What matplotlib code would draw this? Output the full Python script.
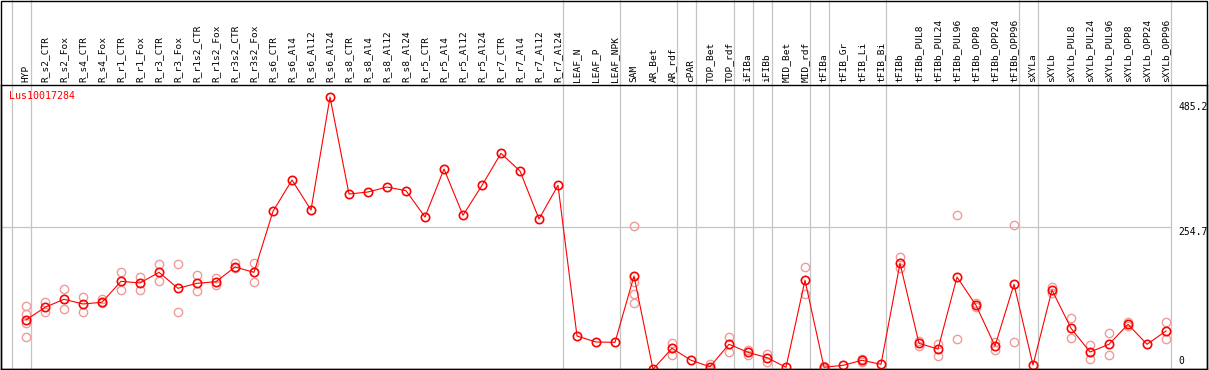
import numpy as np
import matplotlib
matplotlib.use("Agg")
import matplotlib.pyplot as plt
from matplotlib.patches import Rectangle

# ---------------------------------------------------------------
# Datos: expresion de Lus10017284 por tejido / condicion
# ---------------------------------------------------------------
gene = "Lus10017284"

categorias = [
    "HYP", "R_s2_CTR", "R_s2_Fox", "R_s4_CTR", "R_s4_Fox", "R_r1_CTR",
    "R_r1_Fox", "R_r3_CTR", "R_r3_Fox", "R_r1s2_CTR", "R_r1s2_Fox",
    "R_r3s2_CTR", "R_r3s2_Fox", "R_s6_CTR", "R_s6_Al4", "R_s6_Al12",
    "R_s6_Al24", "R_s8_CTR", "R_s8_Al4", "R_s8_Al12", "R_s8_Al24",
    "R_r5_CTR", "R_r5_Al4", "R_r5_Al12", "R_r5_Al24", "R_r7_CTR",
    "R_r7_Al4", "R_r7_Al12", "R_r7_Al24", "LEAF_N", "LEAF_P", "LEAF_NPK",
    "SAM", "AR_Bet", "AR_rdf", "cPAR", "TOP_Bet", "TOP_rdf", "iFIBa",
    "iFIBb", "MID_Bet", "MID_rdf", "tFIBa", "tFIB_Gr", "tFIB_Li",
    "tFIB_Bi", "tFIBb", "tFIBb_PUL8", "tFIBb_PUL24", "tFIBb_PUL96",
    "tFIBb_OPP8", "tFIBb_OPP24", "tFIBb_OPP96", "sXYLa", "sXYLb",
    "sXYLb_PUL8", "sXYLb_PUL24", "sXYLb_PUL96", "sXYLb_OPP8",
    "sXYLb_OPP24", "sXYLb_OPP96",
]

media = [
    90.7, 113.2, 127.4, 119.1, 122.1, 159.2, 156.2, 175.1, 146.8, 155.7,
    158.5, 184.5, 175.1, 283.0, 338.4, 285.3, 485.2, 313.6, 317.2, 326.0,
    319.5, 273.0, 357.9, 276.0, 329.0, 385.6, 354.3, 269.4, 329.0, 62.4,
    51.8, 51.3, 168.6, 3.5, 40.7, 19.5, 8.1, 47.8, 33.6, 24.1,
    7.1, 161.0, 7.1, 10.6, 19.5, 12.4, 191.0, 49.5, 39.4, 166.8,
    116.8, 44.8, 153.9, 11.1, 143.8, 76.1, 34.1, 47.8, 83.1, 47.8,
    71.3,
]

# replicas individuales (vacio = no se ven)
replicas = [
    [115.6, 101.4, 85.4, 60.3], [122.6, 105.4], [145.1, 109.7],
    [130.9, 104.4], [127.4, 120.3], [175.7, 143.3], [166.8, 143.8],
    [189.8, 159.2], [189.8, 104.4], [169.8, 141.5], [165.6, 152.7],
    [192.1, 182.2], [191.6, 157.4], [], [], [], [], [], [], [], [], [],
    [], [], [], [], [], [], [], [], [], [],
    [256.5, 158.0, 136.7, 120.3], [], [50.1, 28.8], [], [12.9, 3.5],
    [60.7, 34.7], [37.7, 28.9], [30.1, 17.0], [], [184.5, 137.3],
    [9.9, 4.5], [], [21.8, 17.0], [], [202.7, 182.2], [54.1, 45.0],
    [48.3, 27.6], [276.0, 56.6], [120.3, 113.3], [51.3, 38.2],
    [258.3, 51.3], [], [148.6, 139.0], [93.8, 58.4], [46.0, 22.3],
    [67.2, 28.3], [86.7, 79.5], [], [86.7, 56.6],
]

# separadores de grupo (despues de estas categorias)
separadores = [-1, 0, 28, 31, 34, 35, 37, 38, 39, 41, 42, 45, 52, 53, 60]
y_ticks = [485.2, 254.7, 0]

# ---------------------------------------------------------------
# Figura
# ---------------------------------------------------------------
W, H = 1209, 370
fig = plt.figure(figsize=(W / 100, H / 100), dpi=100)
ax = fig.add_axes([1 / W, 1 / H, 1206 / W, 284 / H])

x = np.arange(len(categorias))
ax.set_xlim((1 - 26) / 19, (1207 - 26) / 19)
ax.set_ylim(4.07, 506.5)

rojo = "#ff0000"
rosa = "#f09a9a"
gris = "#c4c4c4"

# separadores verticales (suben hasta el borde superior)
for s in separadores:
    ax.axvline(s + 0.24, ymin=0, ymax=369 / 284, color=gris, lw=0.9,
               clip_on=False, zorder=1)

# linea horizontal de referencia
ax.plot([ax.get_xlim()[0], separadores[-1] + 0.24], [y_ticks[1]] * 2,
        color=gris, lw=0.9, zorder=1)

# replicas
for i, reps in enumerate(replicas):
    if reps:
        ax.plot([i] * len(reps), reps, "o", ms=6, mfc="none", mec=rosa,
                mew=1.0, zorder=2)

# media
ax.plot(x, media, "-", color=rojo, lw=0.8, zorder=3)
ax.plot(x, media, "o", ms=6, mfc="none", mec=rojo, mew=1.2, zorder=4)

ax.set_xticks([])
ax.set_yticks([])
for sp in ax.spines.values():
    sp.set_color("black")
    sp.set_linewidth(1.0)

fuente = "DejaVu Sans Mono"

# etiquetas de categoria (verticales, arriba)
for i, nombre in enumerate(categorias):
    ax.annotate(nombre, xy=(i, 1), xycoords=("data", "axes fraction"),
                xytext=(0, 3), textcoords="offset pixels", rotation=90,
                ha="center", va="bottom", fontsize=6.8, family=fuente,
                color="black", annotation_clip=False)

# nombre del gen
ax.annotate(gene, xy=(0, 1), xycoords="axes fraction", xytext=(8, -6),
            textcoords="offset pixels", ha="left", va="top",
            fontsize=7.2, family=fuente, color=rojo)

# etiquetas del eje derecho
xr = separadores[-1] + 0.24
ax.annotate(f"{y_ticks[0]:.1f}", xy=(xr, y_ticks[0]), xytext=(8, -5),
            textcoords="offset pixels", ha="left", va="top",
            fontsize=7.0, family=fuente, annotation_clip=False)
ax.annotate(f"{y_ticks[1]:.1f}", xy=(xr, y_ticks[1]), xytext=(8, 0),
            textcoords="offset pixels", ha="left", va="top",
            fontsize=7.0, family=fuente, annotation_clip=False)
ax.annotate(f"{y_ticks[2]:g}", xy=(xr, 0), xycoords=("data", "axes fraction"),
            xytext=(8, 3), textcoords="offset pixels", ha="left",
            va="bottom", fontsize=7.0, family=fuente, annotation_clip=False)

# marco exterior de la zona de etiquetas
fig.add_artist(Rectangle((0.6 / W, 1 / H), 1206.5 / W, 368.5 / H,
                         transform=fig.transFigure, fill=False,
                         edgecolor="black", lw=1.0))

fig.savefig("out.png", dpi=100)
